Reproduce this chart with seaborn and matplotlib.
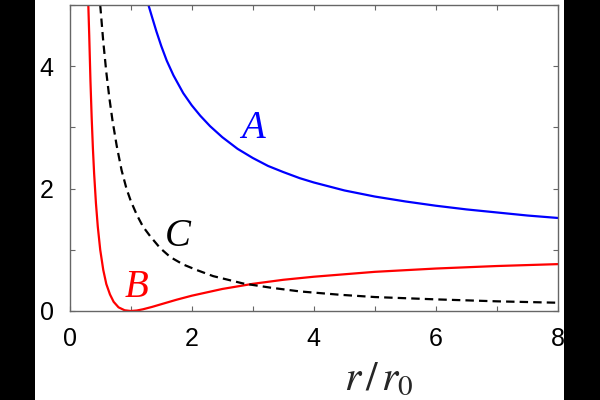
import numpy as np
import pandas as pd
import matplotlib
matplotlib.use("Agg")
import matplotlib.pyplot as plt
import seaborn as sns
from matplotlib.patches import Rectangle
from matplotlib.ticker import MultipleLocator

# ---- data ----
r_A = [1.29, 1.35, 1.42, 1.5, 1.59, 1.7, 1.86, 2.0, 2.14, 2.3, 2.5, 2.75, 3.0,
       3.25, 3.5, 3.77, 4.0, 4.5, 5.0, 5.5, 6.0, 6.5, 7.0, 7.5, 8.0]
y_A = [5.0, 4.80, 4.57, 4.33, 4.09, 3.85, 3.56, 3.36, 3.19, 3.02, 2.84, 2.65, 2.50,
       2.37, 2.27, 2.17, 2.10, 1.97, 1.87, 1.79, 1.72, 1.66, 1.61, 1.56, 1.52]

r_B = [0.305, 0.32, 0.34, 0.36, 0.38, 0.40, 0.43, 0.46, 0.50, 0.55, 0.60, 0.66,
       0.72, 0.80, 0.90, 1.0, 1.1, 1.2, 1.35, 1.5, 1.75, 2.0, 2.5, 3.0, 3.5, 4.0,
       5.0, 6.0, 7.0, 8.0]
y_B = [5.0, 4.5, 3.76, 3.16, 2.66, 2.25, 1.76, 1.38, 1.0, 0.67, 0.44, 0.27, 0.15,
       0.06, 0.012, 0.0, 0.008, 0.028, 0.067, 0.111, 0.184, 0.25, 0.36, 0.444,
       0.51, 0.56, 0.64, 0.694, 0.735, 0.766]

r_C = [0.50, 0.55, 0.60, 0.65, 0.70, 0.77, 0.85, 0.93, 1.0, 1.1, 1.2, 1.32, 1.48,
       1.65, 1.86, 2.08, 2.35, 2.84, 3.3, 3.77, 4.43, 5.0, 6.0, 7.0, 8.0]
y_C = [5.0, 4.4, 3.9, 3.48, 3.12, 2.7, 2.3, 2.0, 1.8, 1.57, 1.38, 1.22, 1.03,
       0.88, 0.76, 0.67, 0.57, 0.45, 0.38, 0.32, 0.265, 0.228, 0.19, 0.158, 0.135]

labels = ["A", "B", "C"]
label_pos_x = [3.0, 1.10, 1.77]
label_pos_y = [2.98, 0.38, 1.22]
colors = ["#0000ff", "#ff0000", "#000000"]

x_ticks = [0, 2, 4, 6, 8]
y_ticks = [0, 2, 4]

dfA = pd.DataFrame({"r": r_A, "y": y_A})
dfB = pd.DataFrame({"r": r_B, "y": y_B})
dfC = pd.DataFrame({"r": r_C, "y": y_C})

sns.set_style("ticks")
plt.rcParams["font.family"] = ["Liberation Sans", "DejaVu Sans"]
plt.rcParams["mathtext.fontset"] = "stix"

fig = plt.figure(figsize=(6, 4), dpi=100)
fig.patch.set_facecolor("white")
ax = fig.add_axes([69.7 / 600, 1 - 311 / 400, (558 - 69.7) / 600, (311 - 5) / 400])

sns.lineplot(data=dfA, x="r", y="y", ax=ax, color=colors[0], lw=1.6)
sns.lineplot(data=dfB, x="r", y="y", ax=ax, color=colors[1], lw=1.6)
sns.lineplot(data=dfC, x="r", y="y", ax=ax, color=colors[2], lw=1.6,
             linestyle=(0, (3.8, 2.3)))

for lab, lx, ly, c in zip(labels, label_pos_x, label_pos_y, colors):
    ax.text(lx, ly, lab, color=c, fontsize=28, fontstyle="italic",
            family=["Liberation Serif", "DejaVu Serif"], ha="center", va="center")

ax.set_xlim(0, 8)
ax.set_ylim(0, 5)
ax.set_xticks(x_ticks)
ax.set_yticks(y_ticks)
ax.set_xticklabels([str(t) for t in x_ticks])
ax.set_yticklabels([str(t) for t in y_ticks])
ax.xaxis.set_minor_locator(MultipleLocator(1))
ax.yaxis.set_minor_locator(MultipleLocator(1))
ax.tick_params(which="both", direction="in", top=True, right=True,
               length=3.6, width=0.8, color="#666666")
ax.tick_params(which="major", labelsize=18, pad=11.5, labelcolor="black")
for sp in ax.spines.values():
    sp.set_color("#666666")
    sp.set_linewidth(1.0)
ax.set_xlabel("")
ax.set_ylabel("")

fig.text(379 / 600, 10 / 400, r"$r\,/\,r_0$", fontsize=30, ha="center",
         va="baseline")

# black side bars
fig.patches.append(Rectangle((0, 0), 35 / 600, 1, transform=fig.transFigure,
                             facecolor="black", edgecolor="none", zorder=10))
fig.patches.append(Rectangle((564 / 600, 0), 36 / 600, 1, transform=fig.transFigure,
                             facecolor="black", edgecolor="none", zorder=10))

fig.savefig("out.png", dpi=100, facecolor="white")
